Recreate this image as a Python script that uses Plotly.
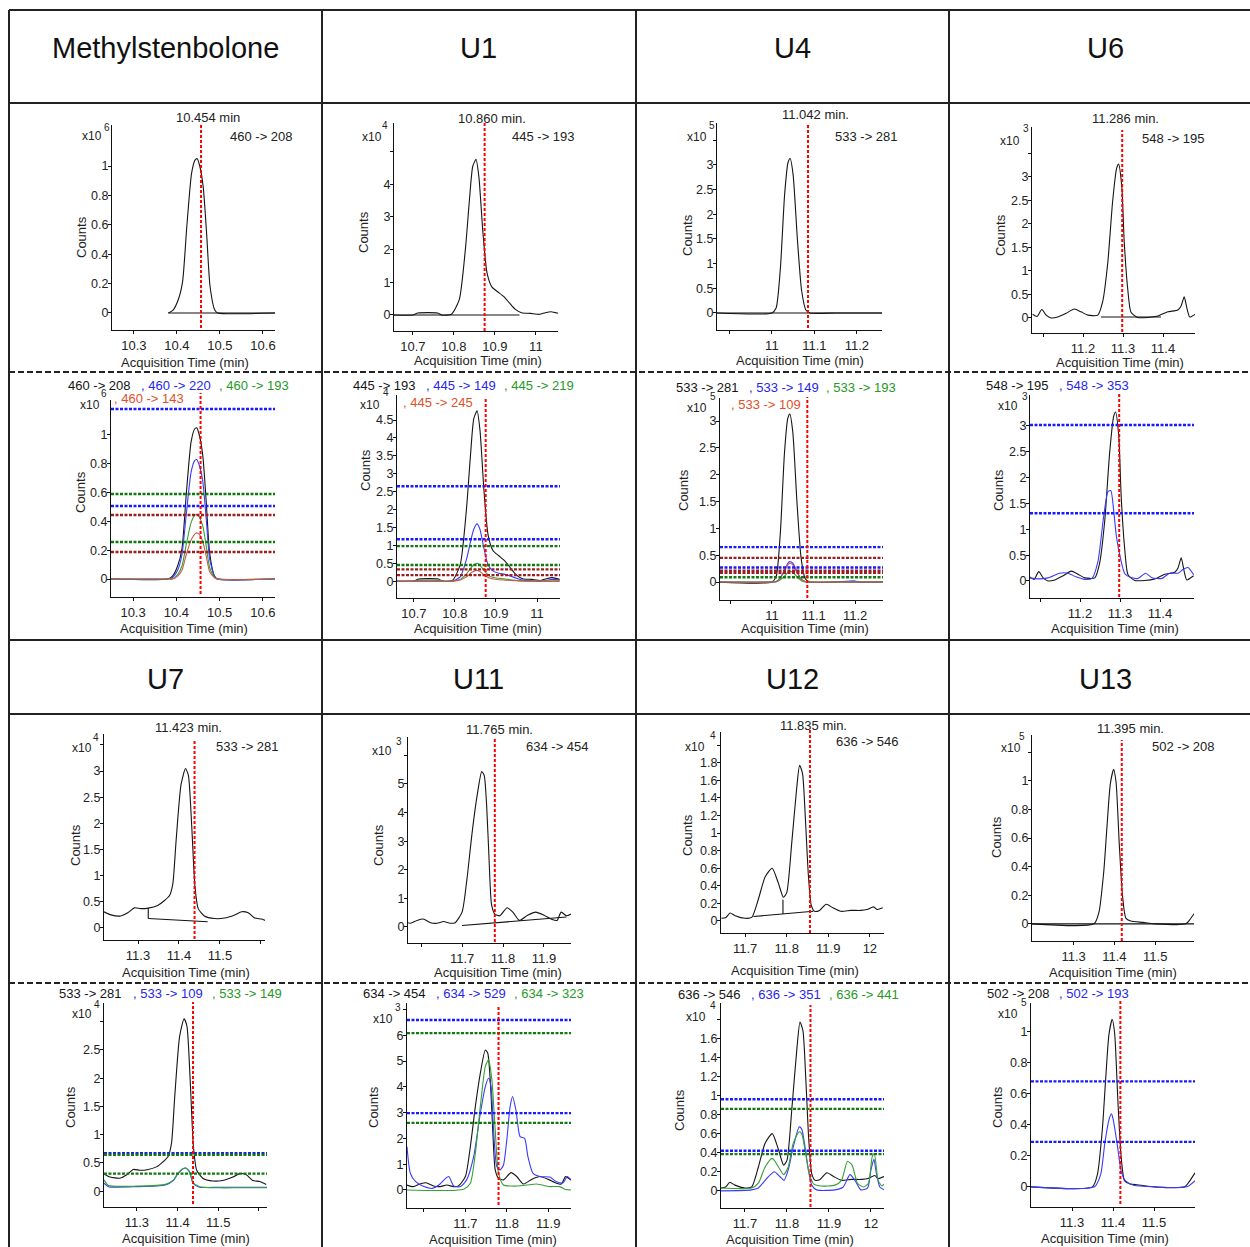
import plotly.graph_objects as go

W, H = 1250, 1247
FONT = "Arial, Liberation Sans, sans-serif"

# ---------------- headers / labels ----------------
COMPOUNDS_ROW1 = ["Methylstenbolone", "U1", "U4", "U6"]
COMPOUNDS_ROW2 = ["U7", "U11", "U12", "U13"]
RT_LABELS = ["10.454 min", "10.860 min.", "11.042 min.", "11.286 min.",
             "11.423 min.", "11.765 min.", "11.835 min.", "11.395 min."]
RT_MARK = [10.456, 10.875, 11.085, 11.298, 11.438, 11.78, 11.856, 11.418]
EXPONENTS = ["6", "4", "5", "3", "4", "3", "4", "5"]
TRANSITIONS = [
    ["460 -> 208", "460 -> 220", "460 -> 193", "460 -> 143"],
    ["445 -> 193", "445 -> 149", "445 -> 219", "445 -> 245"],
    ["533 -> 281", "533 -> 149", "533 -> 193", "533 -> 109"],
    ["548 -> 195", "548 -> 353"],
    ["533 -> 281", "533 -> 109", "533 -> 149"],
    ["634 -> 454", "634 -> 529", "634 -> 323"],
    ["636 -> 546", "636 -> 351", "636 -> 441"],
    ["502 -> 208", "502 -> 193"],
]

# ---------------- chromatogram data (counts in units of x10^n) ----------------
# Methylstenbolone
MS_T = [10.249, 10.38, 10.391, 10.403, 10.413, 10.423, 10.434, 10.442, 10.447, 10.453,
        10.461, 10.469, 10.477, 10.488, 10.495, 10.628]
MS_208 = [0, 0, 0.02, 0.09, 0.21, 0.59, 0.95, 1.04, 1.05, 1.0, 0.86, 0.54, 0.18, 0.02, 0, 0]
MS_220 = [0, 0, 0.01, 0.06, 0.17, 0.45, 0.74, 0.82, 0.83, 0.79, 0.68, 0.42, 0.14, 0.02, 0, 0]
MS_193 = [0, 0, 0, 0.03, 0.09, 0.24, 0.39, 0.44, 0.45, 0.43, 0.37, 0.23, 0.08, 0.01, 0, 0]
MS_143 = [0, 0, 0, 0.02, 0.06, 0.17, 0.27, 0.31, 0.32, 0.31, 0.26, 0.16, 0.05, 0.01, 0, 0]
MS_BASE_T = [10.38, 10.628]
MS_BASE_Y = [0, 0]
MS_LIMITS = {"220": [1.18, 0.507], "193": [0.59, 0.257], "143": [0.444, 0.188]}

# U1
U1_T = [10.654, 10.70, 10.712, 10.76, 10.77, 10.794, 10.813, 10.828, 10.838, 10.846, 10.854,
        10.861, 10.871, 10.881, 10.893, 10.907, 10.922, 10.936, 10.95, 10.965, 10.987, 11.009,
        11.023, 11.037, 11.055]
U1_193 = [0, 0, 0.06, 0.06, 0.0, 0.02, 0.46, 1.99, 3.52, 4.54, 4.76, 4.23, 2.5, 1.28, 0.85,
          0.71, 0.56, 0.36, 0.17, 0.07, 0.05, 0.02, 0.07, 0.1, 0.05]
U1_149 = [0, 0, 0, 0, 0, 0, 0.12, 0.6, 1.1, 1.45, 1.6, 1.45, 0.9, 0.45, 0.28, 0.22, 0.19,
          0.14, 0.08, 0.03, 0.01, 0, 0.02, 0.05, 0.03]
U1_219 = [0, 0, 0.02, 0.02, 0, 0, 0.05, 0.2, 0.36, 0.46, 0.5, 0.45, 0.3, 0.17, 0.1, 0.08,
          0.06, 0.04, 0.02, 0.01, 0, 0, 0, 0, 0]
U1_245 = [0, 0, 0, 0, 0, 0, 0.03, 0.12, 0.22, 0.28, 0.3, 0.27, 0.18, 0.1, 0.06, 0.04, 0.03,
          0.02, 0.01, 0, 0, 0, 0, 0, 0]
U1_BASE_T = [10.654, 10.96]
U1_BASE_Y = [0, 0]
U1_LIMITS = {"149": [2.65, 1.17], "219": [0.98, 0.45], "245": [0.33, 0.17]}

# U4
U4_T = [10.871, 11.0, 11.01, 11.02, 11.03, 11.038, 11.043, 11.05, 11.06, 11.07, 11.08,
        11.09, 11.15, 11.2, 11.21, 11.267]
U4_281 = [0, 0, 0.1, 0.9, 2.4, 3.05, 3.13, 2.8, 1.5, 0.45, 0.06, 0, 0, 0, 0, 0]
U4_149 = [0, 0, 0.01, 0.08, 0.22, 0.35, 0.38, 0.35, 0.2, 0.06, 0.01, 0, 0, 0.02, 0, 0]
U4_193 = [0, 0, 0, 0.04, 0.11, 0.18, 0.2, 0.18, 0.1, 0.03, 0, 0, 0, 0, 0, 0]
U4_109 = [0, 0, 0.01, 0.07, 0.2, 0.32, 0.35, 0.32, 0.18, 0.05, 0.01, 0, 0, 0, 0, 0]
U4_BASE_T = [10.871, 11.267]
U4_BASE_Y = [0, 0]
U4_LIMITS = {"149": [0.65, 0.27], "193": [0.09], "109": [0.45, 0.21, 0.17]}

# U6
U6_T = [11.074, 11.085, 11.097, 11.108, 11.12, 11.137, 11.158, 11.178, 11.195, 11.212,
        11.237, 11.249, 11.262, 11.274, 11.284, 11.289, 11.297, 11.303, 11.312, 11.32,
        11.337, 11.362, 11.387, 11.412, 11.437, 11.445, 11.453, 11.46, 11.467, 11.484]
U6_195 = [0.08, 0.03, 0.18, 0.06, 0.0, 0.02, 0.1, 0.19, 0.13, 0.06, 0.06, 0.34, 1.18, 2.47,
          3.18, 3.27, 2.79, 1.63, 0.6, 0.12, 0.01, 0.01, 0.04, 0.13, 0.17, 0.25, 0.45, 0.2,
          0.02, 0.1]
U6_T2 = [11.074, 11.096, 11.12, 11.149, 11.17, 11.19, 11.212, 11.23, 11.245, 11.258, 11.27,
         11.277, 11.284, 11.291, 11.302, 11.312, 11.33, 11.345, 11.364, 11.38, 11.405, 11.424,
         11.445, 11.457, 11.47, 11.484]
U6_353 = [0.06, 0.04, 0.06, 0.15, 0.15, 0.08, 0.03, 0.05, 0.38, 1.18, 1.73, 1.75, 1.38, 0.86,
          0.41, 0.14, 0.06, 0.05, 0.15, 0.06, 0.05, 0.15, 0.15, 0.22, 0.26, 0.12]
U6_BASE_T = [11.245, 11.395]
U6_BASE_Y = [0.02, 0.02]
U6_LIMITS = {"353": [3.02, 1.31]}

# U7
U7_T = [11.217, 11.234, 11.258, 11.275, 11.291, 11.307, 11.325, 11.348, 11.364, 11.377,
        11.385, 11.393, 11.405, 11.416, 11.423, 11.431, 11.439, 11.447, 11.462, 11.487,
        11.511, 11.536, 11.553, 11.569, 11.585, 11.602, 11.618]
U7_281 = [0.31, 0.25, 0.23, 0.29, 0.385, 0.37, 0.38, 0.43, 0.52, 0.62, 0.845, 1.67, 2.74,
          3.05, 2.92, 1.97, 0.79, 0.37, 0.23, 0.18, 0.19, 0.25, 0.31, 0.29, 0.19, 0.17, 0.12]
U7_T2 = [11.219, 11.23, 11.30, 11.37, 11.39, 11.40, 11.411, 11.42, 11.43, 11.438, 11.454,
         11.50, 11.55, 11.62]
U7_109 = [0.14, 0.08, 0.08, 0.11, 0.19, 0.3, 0.385, 0.41, 0.34, 0.14, 0.07, 0.07, 0.07, 0.07]
U7_149 = [0.2, 0.1, 0.09, 0.12, 0.2, 0.31, 0.39, 0.41, 0.33, 0.15, 0.08, 0.06, 0.06, 0.06]
U7_BASE_T = [11.325, 11.47, None, 11.325, 11.325]
U7_BASE_Y = [0.18, 0.12, None, 0.38, 0.18]
U7_LIMITS = {"109": [0.67], "149": [0.645, 0.31]}

# U11
U11_T = [11.559, 11.574, 11.59, 11.605, 11.623, 11.639, 11.655, 11.671, 11.683, 11.70, 11.712,
         11.724, 11.736, 11.748, 11.754, 11.76, 11.766, 11.772, 11.78, 11.792, 11.81, 11.824,
         11.84, 11.86, 11.88, 11.90, 11.92, 11.932, 11.942, 11.955, 11.966]
U11_454 = [0.19, 0.13, 0.23, 0.28, 0.15, 0.13, 0.19, 0.13, 0.15, 0.52, 1.68, 3.23, 4.52, 5.43,
           5.3, 4.26, 2.33, 0.78, 0.45, 0.39, 0.67, 0.52, 0.23, 0.41, 0.52, 0.41, 0.26, 0.23,
           0.52, 0.39, 0.45]
U11_T2 = [11.559, 11.567, 11.58, 11.60, 11.62, 11.636, 11.652, 11.66, 11.672, 11.688, 11.703,
          11.72, 11.736, 11.748, 11.756, 11.762, 11.768, 11.776, 11.784, 11.792, 11.80, 11.808,
          11.814, 11.822, 11.832, 11.843, 11.851, 11.863, 11.88, 11.904, 11.92, 11.936,
          11.946, 11.955]
U11_529 = [1.68, 0.65, 0.32, 0.13, 0.06, 0.19, 0.45, 0.52, 0.15, 0.13, 0.39, 1.29, 2.97, 4.0,
           4.33, 4.0, 2.33, 0.9, 0.78, 0.97, 1.94, 3.23, 3.62, 3.1, 2.07, 2.0, 1.29, 0.65,
           0.52, 0.5, 0.32, 0.28, 0.52, 0.39]
U11_T3 = [11.559, 11.696, 11.712, 11.724, 11.736, 11.748, 11.756, 11.764, 11.772, 11.78,
          11.792, 11.816, 11.848, 11.872, 11.904, 11.928, 11.94, 11.955]
U11_323 = [0, 0.03, 0.26, 1.42, 3.23, 4.78, 5.06, 4.26, 2.33, 0.65, 0.19, 0.15, 0.19, 0.23,
           0.13, 0.13, 0.03, 0]
U11_BASE_T = [11.70, 11.955]
U11_BASE_Y = [0.05, 0.35]
U11_LIMITS = {"529": [6.59, 2.98], "323": [6.08, 2.6]}

# U12
U12_T = [11.643, 11.654, 11.664, 11.676, 11.70, 11.716, 11.732, 11.748, 11.765, 11.78, 11.792,
         11.80, 11.812, 11.824, 11.831, 11.838, 11.845, 11.852, 11.859, 11.867, 11.879, 11.895,
         11.911, 11.93, 11.954, 11.978, 11.993, 12.009, 12.017, 12.031]
U12_546 = [0.03, 0.04, 0.09, 0.06, 0.03, 0.04, 0.25, 0.5, 0.6, 0.43, 0.27, 0.32, 0.88, 1.51,
           1.77, 1.68, 1.16, 0.53, 0.18, 0.11, 0.12, 0.19, 0.15, 0.11, 0.12, 0.12, 0.13, 0.16,
           0.13, 0.15]
U12_T2 = [11.643, 11.716, 11.732, 11.752, 11.77, 11.783, 11.793, 11.803, 11.815, 11.829,
          11.835, 11.843, 11.851, 11.859, 11.871, 11.914, 11.934, 11.95, 11.962, 11.976,
          11.992, 12.0, 12.007, 12.013, 12.021, 12.031]
U12_351 = [0, 0.01, 0.03, 0.13, 0.2, 0.15, 0.11, 0.22, 0.46, 0.67, 0.65, 0.46, 0.22, 0.06,
           0.01, 0.01, 0.04, 0.17, 0.11, 0.01, 0.03, 0.22, 0.33, 0.18, 0.04, 0.01]
U12_T3 = [11.643, 11.716, 11.732, 11.748, 11.765, 11.78, 11.792, 11.803, 11.815, 11.829,
          11.835, 11.843, 11.853, 11.864, 11.882, 11.914, 11.93, 11.944, 11.955, 11.968,
          11.982, 11.994, 12.003, 12.008, 12.017, 12.026, 12.031]
U12_441 = [0.03, 0.03, 0.08, 0.25, 0.34, 0.25, 0.17, 0.25, 0.5, 0.62, 0.6, 0.43, 0.18, 0.07,
           0.05, 0.06, 0.11, 0.31, 0.27, 0.08, 0.04, 0.08, 0.36, 0.39, 0.11, 0.05, 0.07]
U12_BASE_T = [11.72, 11.864, None, 11.791, 11.791]
U12_BASE_Y = [0.05, 0.11, None, 0.24, 0.08]
U12_LIMITS = {"351": [0.96, 0.42], "441": [0.86, 0.385]}

# U13
U13_T = [11.198, 11.35, 11.362, 11.374, 11.382, 11.39, 11.398, 11.404, 11.412, 11.42, 11.428,
         11.44, 11.47, 11.5, 11.575, 11.585, 11.6]
U13_208 = [0, 0, 0.08, 0.37, 0.69, 0.98, 1.08, 0.99, 0.55, 0.19, 0.04, 0.02, 0.01, 0, 0,
           0.03, 0.09]
U13_T2 = [11.2, 11.355, 11.37, 11.38, 11.39, 11.396, 11.40, 11.41, 11.42, 11.43, 11.45, 11.5,
          11.58, 11.6]
U13_193 = [0, 0, 0.08, 0.28, 0.43, 0.47, 0.44, 0.28, 0.1, 0.04, 0.01, 0, 0, 0.04]
U13_BASE_T = [11.198, 11.6]
U13_BASE_Y = [0, 0]
U13_LIMITS = {"193": [0.68, 0.29]}

# ---------------- tick values ----------------
X_TICKS = [[10.3, 10.4, 10.5, 10.6], [10.7, 10.8, 10.9, 11], [11, 11.1, 11.2], [11.2, 11.3, 11.4],
           [11.3, 11.4, 11.5], [11.7, 11.8, 11.9], [11.7, 11.8, 11.9, 12], [11.3, 11.4, 11.5]]
X_TICKS_BLANK = [[], [], [10.9], [11.1], [11.6], [11.6], [], []]
Y_TICKS_TOP = [[0, 0.2, 0.4, 0.6, 0.8, 1], [0, 1, 2, 3, 4], [0, 0.5, 1, 1.5, 2, 2.5, 3],
               [0, 0.5, 1, 1.5, 2, 2.5, 3], [0, 0.5, 1, 1.5, 2, 2.5, 3], [0, 1, 2, 3, 4, 5],
               [0, 0.2, 0.4, 0.6, 0.8, 1, 1.2, 1.4, 1.6, 1.8], [0, 0.2, 0.4, 0.6, 0.8, 1]]
Y_TICKS_TOP_BLANK = [[], [5], [3.5], [3.5], [3.5], [6], [2], [1.2]]
Y_TICKS_BOT = [[0, 0.2, 0.4, 0.6, 0.8, 1], [0, 0.5, 1, 1.5, 2, 2.5, 3, 3.5, 4, 4.5],
               [0, 0.5, 1, 1.5, 2, 2.5, 3], [0, 0.5, 1, 1.5, 2, 2.5, 3],
               [0, 0.5, 1, 1.5, 2, 2.5], [0, 1, 2, 3, 4, 5, 6],
               [0, 0.2, 0.4, 0.6, 0.8, 1, 1.2, 1.4, 1.6], [0, 0.2, 0.4, 0.6, 0.8, 1]]
Y_TICKS_BOT_BLANK = [[], [], [], [], [3], [7], [1.8], []]

SERIES = [
    [(MS_T, MS_208), (MS_T, MS_220), (MS_T, MS_193), (MS_T, MS_143)],
    [(U1_T, U1_193), (U1_T, U1_149), (U1_T, U1_219), (U1_T, U1_245)],
    [(U4_T, U4_281), (U4_T, U4_149), (U4_T, U4_193), (U4_T, U4_109)],
    [(U6_T, U6_195), (U6_T2, U6_353)],
    [(U7_T, U7_281), (U7_T2, U7_109), (U7_T2, U7_149)],
    [(U11_T, U11_454), (U11_T2, U11_529), (U11_T3, U11_323)],
    [(U12_T, U12_546), (U12_T2, U12_351), (U12_T3, U12_441)],
    [(U13_T, U13_208), (U13_T2, U13_193)],
]
BASELINES = [(MS_BASE_T, MS_BASE_Y), (U1_BASE_T, U1_BASE_Y), (U4_BASE_T, U4_BASE_Y),
             (U6_BASE_T, U6_BASE_Y), (U7_BASE_T, U7_BASE_Y), (U11_BASE_T, U11_BASE_Y),
             (U12_BASE_T, U12_BASE_Y), (U13_BASE_T, U13_BASE_Y)]
LIMITS = [MS_LIMITS, U1_LIMITS, U4_LIMITS, U6_LIMITS, U7_LIMITS, U11_LIMITS, U12_LIMITS,
          U13_LIMITS]

# ---------------- layout geometry (pixels) ----------------
TOP = [
    dict(box=(112, 275, 125, 330), xr=[10.249, 10.628], yr=[-0.116, 1.279], red=(124, 328),
         rt=(208, 117), tr=(261, 137), x10=(92, 136), sup=(107, 127), counts=(81, 237), xt=(185, 362)),
    dict(box=(394, 558, 123, 331), xr=[10.654, 11.054], yr=[-0.49, 5.87], red=(123, 331),
         rt=(492, 118), tr=(543, 137), x10=(372, 137), sup=(385, 125), counts=(363, 232), xt=(478, 360)),
    dict(box=(717, 882, 123, 330), xr=[10.871, 11.259], yr=[-0.345, 3.85], red=(123, 328),
         rt=(815, 115), tr=(866, 137), x10=(697, 137), sup=(712, 125), counts=(687, 235), xt=(800, 360)),
    dict(box=(1032, 1195, 127, 333), xr=[11.0725, 11.48], yr=[-0.32, 4.06], red=(130, 332),
         rt=(1125, 118), tr=(1173, 139), x10=(1010, 141), sup=(1026, 129), counts=(1000, 235), xt=(1120, 362)),
    dict(box=(104, 265, 734, 940), xr=[11.217, 11.61], yr=[-0.23, 3.71], red=(739, 939),
         rt=(188, 727), tr=(247, 746), x10=(82, 748), sup=(96, 737), counts=(75, 845), xt=(186, 972)),
    dict(box=(408, 571, 737, 943), xr=[11.568, 11.966], yr=[-0.56, 6.64], red=(738, 942),
         rt=(499, 729), tr=(557, 746), x10=(382, 751), sup=(399, 741), counts=(378, 845), xt=(498, 972)),
    dict(box=(721, 884, 732, 933), xr=[11.642, 12.034], yr=[-0.137, 2.15], red=(728, 933),
         rt=(813, 725), tr=(867, 741), x10=(695, 747), sup=(713, 735), counts=(688, 835), xt=(795, 970)),
    dict(box=(1032, 1194, 735, 941), xr=[11.198, 11.595], yr=[-0.12, 1.32], red=(740, 941),
         rt=(1130, 728), tr=(1183, 746), x10=(1011, 748), sup=(1022, 736), counts=(996, 837), xt=(1113, 972)),
]
BOT = [
    dict(box=(111, 275, 400, 597), xr=[10.249, 10.628], yr=[-0.125, 1.243], red=(393, 594),
         leg_y=385, leg_x=[67, 140, 218], leg2=(113, 398), x10=(90, 405), sup=(104, 393),
         counts=(80, 492), xt=(184, 628)),
    dict(box=(397, 560, 395, 598), xr=[10.659, 11.056], yr=[-0.47, 5.2], red=(398, 597),
         leg_y=385, leg_x=[352, 425, 503], leg2=(402, 403), x10=(370, 405), sup=(386, 392),
         counts=(365, 470), xt=(478, 628)),
    dict(box=(720, 883, 398, 600), xr=[10.875, 11.267], yr=[-0.335, 3.43], red=(397, 598),
         leg_y=388, leg_x=[675, 748, 825], leg2=(730, 405), x10=(697, 408), sup=(713, 396),
         counts=(683, 490), xt=(805, 628)),
    dict(box=(1030, 1194, 395, 598), xr=[11.075, 11.485], yr=[-0.33, 3.6], red=(393, 597),
         leg_y=385, leg_x=[985, 1058], leg2=None, x10=(1008, 406), sup=(1025, 396),
         counts=(998, 490), xt=(1115, 628)),
    dict(box=(104, 267, 1003, 1207), xr=[11.219, 11.62], yr=[-0.28, 3.33], red=(1002, 1204),
         leg_y=993, leg_x=[58, 132, 211], leg2=None, x10=(82, 1014), sup=(97, 1004),
         counts=(70, 1107), xt=(186, 1238)),
    dict(box=(407, 571, 1003, 1208), xr=[11.559, 11.955], yr=[-0.7, 7.25], red=(1005, 1205),
         leg_y=993, leg_x=[362, 435, 513], leg2=None, x10=(383, 1019), sup=(398, 1007),
         counts=(373, 1107), xt=(493, 1239)),
    dict(box=(721, 884, 1003, 1208), xr=[11.643, 12.031], yr=[-0.18, 1.97], red=(1005, 1207),
         leg_y=995, leg_x=[677, 750, 828], leg2=None, x10=(696, 1017), sup=(713, 1005),
         counts=(679, 1110), xt=(790, 1239)),
    dict(box=(1031, 1195, 1003, 1207), xr=[11.2, 11.6], yr=[-0.13, 1.185], red=(1000, 1204),
         leg_y=993, leg_x=[986, 1058], leg2=None, x10=(1008, 1014), sup=(1024, 1003),
         counts=(997, 1107), xt=(1105, 1238)),
]

TRACE_COLORS = ["#151515", "#3a3aff", "#35a035", "#cc5a4a"]
TEXT_COLORS = ["#151515", "#2626ee", "#259925", "#e0502a"]
LIMIT_COLORS = {0: "#1a1aff", 1: "#107a10", 2: "#9a1f1f"}


def px(x):
    return x / W


def py(y):
    return 1 - y / H


fig = go.Figure()
annotations = []
shapes = []
layout = dict(width=W, height=H, margin=dict(l=0, r=0, t=0, b=0), autosize=False,
              paper_bgcolor="white", plot_bgcolor="rgba(0,0,0,0)",
              font=dict(family=FONT, size=13, color="#222"), showlegend=False)


def text(x, y, s, size=13, color="#222", xanchor="center", angle=0):
    annotations.append(dict(x=px(x), y=py(y), xref="paper", yref="paper", text=s,
                            showarrow=False, xanchor=xanchor, yanchor="middle",
                            font=dict(size=size, color=color, family=FONT), textangle=angle,
                            borderpad=0))


def add_axes(n, g, xt, xb, yt, yb):
    L, R, T, B = g["box"]
    s = "" if n == 1 else str(n)
    common = dict(showline=True, linecolor="#111", linewidth=1, ticks="outside", ticklen=3,
                  tickcolor="#111", showgrid=False, zeroline=False, fixedrange=True)
    layout["xaxis" + s] = dict(domain=[px(L), px(R)], range=g["xr"], anchor="y" + s,
                               tickvals=xt + xb, ticktext=[f"{v:g}" for v in xt] + [""] * len(xb),
                               tickfont=dict(size=13, color="#222", family=FONT), **common)
    layout["yaxis" + s] = dict(domain=[py(B), py(T)], range=g["yr"], anchor="x" + s,
                               tickvals=yt + yb, ticktext=[f"{v:g}" for v in yt] + [""] * len(yb),
                               tickfont=dict(size=12.5, color="#222", family=FONT),
                               ticklabelstandoff=-3, **common)
    return s


def add_line(s, x, y, color, width=1.1):
    fig.add_trace(go.Scatter(x=x, y=y, xaxis="x" + s, yaxis="y" + s, mode="lines",
                             line=dict(color=color, width=width, shape="spline", smoothing=0.6),
                             hoverinfo="skip", connectgaps=False))


def common_texts(g, k):
    text(g["x10"][0], g["x10"][1], "x10", size=12)
    text(g["sup"][0], g["sup"][1], EXPONENTS[k], size=10)
    text(g["counts"][0], g["counts"][1], "Counts", angle=-90)
    text(g["xt"][0], g["xt"][1], "Acquisition Time (min)")


def red_marker(s, g, k):
    shapes.append(dict(type="line", xref="x" + s, x0=RT_MARK[k], x1=RT_MARK[k], yref="paper",
                       y0=py(g["red"][1]), y1=py(g["red"][0]),
                       line=dict(color="#ff0000", width=2, dash="3px,2px")))


n = 0
for k in range(8):
    # ----- top (single transition) panel -----
    n += 1
    g = TOP[k]
    s = add_axes(n, g, X_TICKS[k], X_TICKS_BLANK[k], Y_TICKS_TOP[k], Y_TICKS_TOP_BLANK[k])
    bx, by = BASELINES[k]
    add_line(s, bx, by, "#111", 1.1)
    qx, qy = SERIES[k][0]
    if k == 0:
        qx, qy = qx[1:], qy[1:]
    add_line(s, qx, qy, TRACE_COLORS[0], 1.1)
    red_marker(s, g, k)
    text(g["rt"][0], g["rt"][1], RT_LABELS[k])
    text(g["tr"][0], g["tr"][1], TRANSITIONS[k][0])
    common_texts(g, k)

    # ----- bottom (overlay + ion ratio limits) panel -----
    n += 1
    g = BOT[k]
    s = add_axes(n, g, X_TICKS[k], X_TICKS_BLANK[k], Y_TICKS_BOT[k], Y_TICKS_BOT_BLANK[k])
    for i, (sx, sy) in enumerate(SERIES[k]):
        add_line(s, sx, sy, TRACE_COLORS[i], 1.1)
    for i, (key, vals) in enumerate(LIMITS[k].items()):
        col = LIMIT_COLORS[min(i, 2)]
        for v in vals:
            shapes.append(dict(type="line", xref=f"x{s} domain", x0=0, x1=1, yref="y" + s,
                               y0=v, y1=v, line=dict(color=col, width=2.4, dash="3px,1.5px")))
    red_marker(s, g, k)
    for i, lx in enumerate(g["leg_x"]):
        lab = TRANSITIONS[k][i] if i == 0 else ", " + TRANSITIONS[k][i]
        text(lx, g["leg_y"], lab, color=TEXT_COLORS[i], xanchor="left")
    if g["leg2"] is not None:
        text(g["leg2"][0], g["leg2"][1], ", " + TRANSITIONS[k][3], color=TEXT_COLORS[3],
             xanchor="left")
    common_texts(g, k)

# ---------------- table grid ----------------
GRID = "#222"
for x in [9, 322, 636, 949]:
    shapes.append(dict(type="line", xref="paper", yref="paper", x0=px(x), x1=px(x),
                       y0=py(10), y1=py(1247), line=dict(color=GRID, width=2)))
for y in [10, 103, 640, 714]:
    shapes.append(dict(type="line", xref="paper", yref="paper", x0=px(9), x1=px(1250),
                       y0=py(y), y1=py(y), line=dict(color=GRID, width=2)))
for y in [372, 983]:
    shapes.append(dict(type="line", xref="paper", yref="paper", x0=px(9), x1=px(1250),
                       y0=py(y), y1=py(y), line=dict(color=GRID, width=2, dash="6px,3px")))

for cx, name in zip([165, 478, 792, 1105], COMPOUNDS_ROW1):
    text(cx, 48, name, size=29, color="#111")
for cx, name in zip([165, 478, 792, 1105], COMPOUNDS_ROW2):
    text(cx, 679, name, size=29, color="#111")

layout["annotations"] = annotations
layout["shapes"] = shapes
fig.update_layout(**layout)
fig.write_html("out.html")
